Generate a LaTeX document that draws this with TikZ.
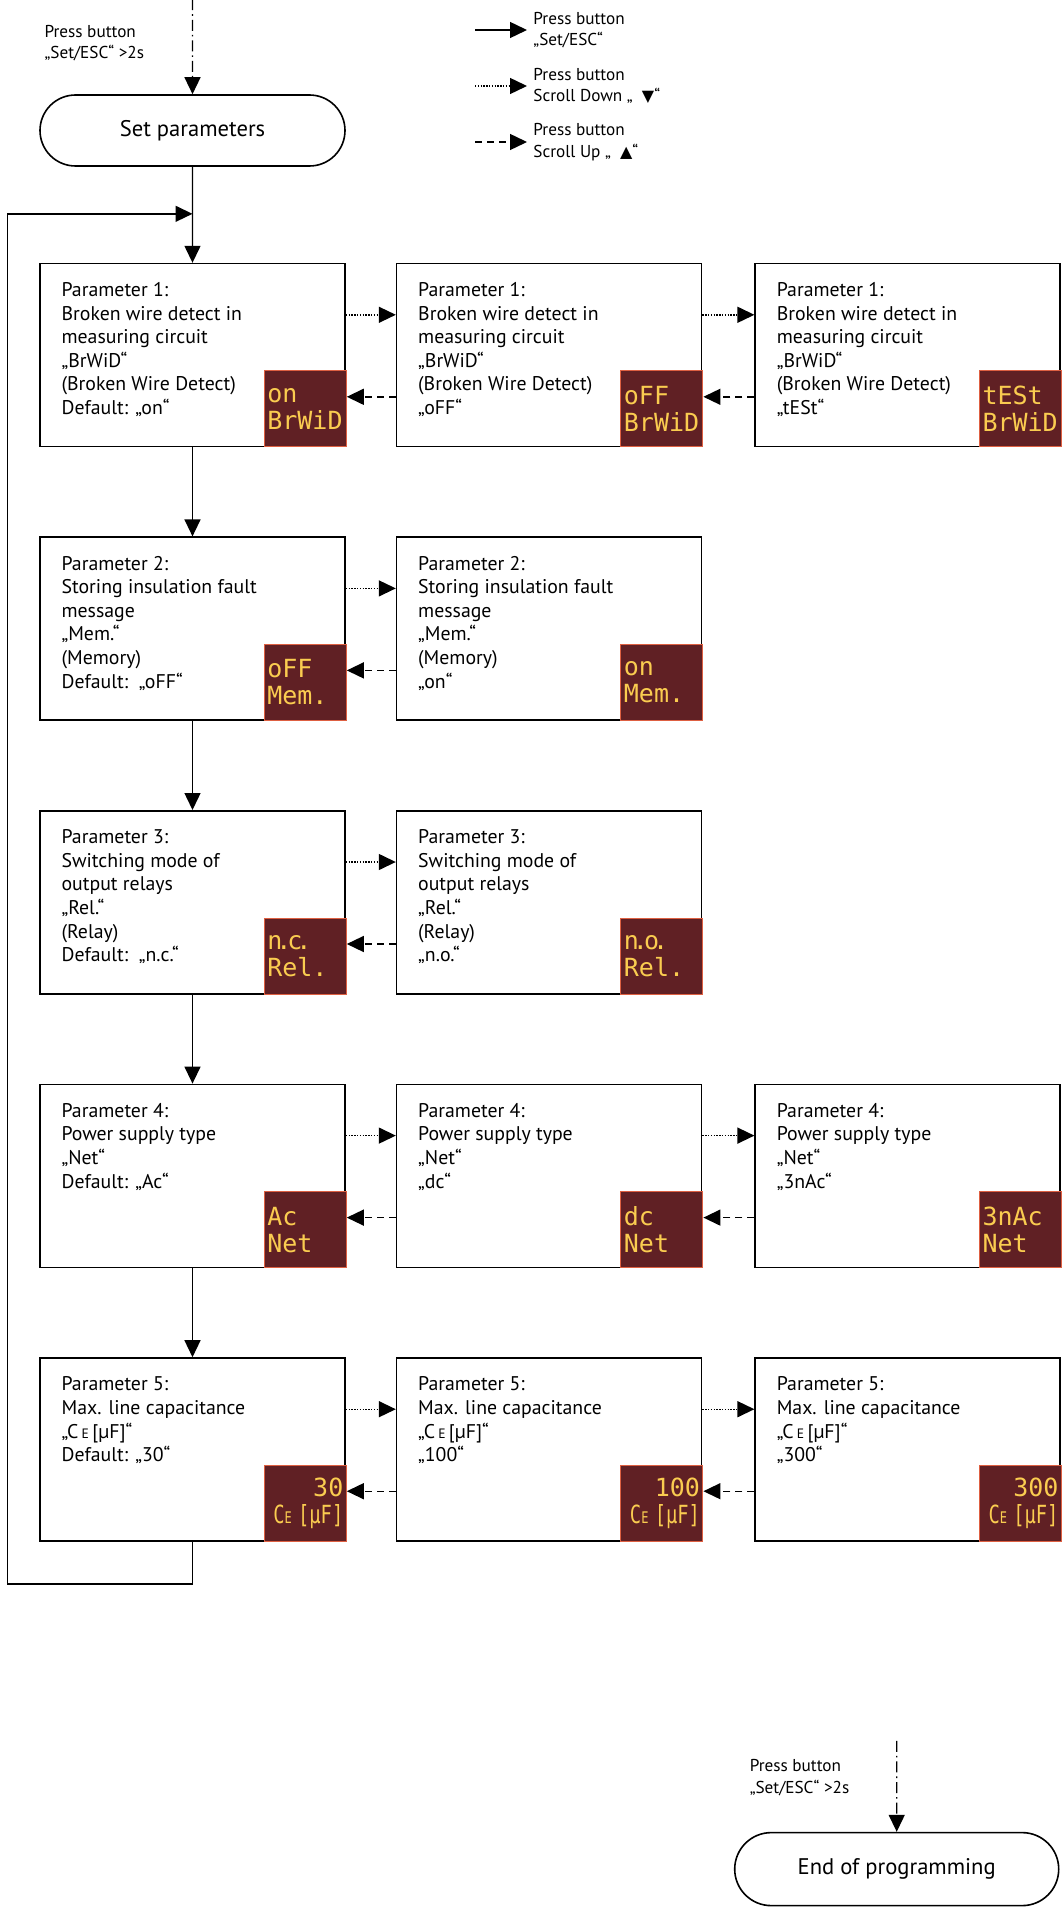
\documentclass[tikz,border=0pt]{standalone}
\usepackage{fontspec}
\usepackage{graphicx}
\setmainfont{PT Sans}
\newfontfamily\symfont{DejaVu Sans}
\newfontfamily\scrfont{DejaVu Sans Mono}
\usetikzlibrary{positioning,arrows.meta,shapes.misc,calc}
\definecolor{scrbg}{RGB}{96,32,36}
\definecolor{scredge}{RGB}{222,96,66}
\definecolor{scrtxt}{RGB}{250,204,80}
\newcommand{\capE}{C\,{\fontsize{6.8}{7}\selectfont E}\,[µF]}
\newcommand{\scrcapE}{\scalebox{0.75}[1]{C{\fontsize{8}{8}\selectfont E} [µF]}}
\tikzset{
  pm box/.style={
    rectangle,
    draw=black,
    line width=0.8pt,
    minimum width=152.5pt,
    minimum height=91.5pt,
    inner sep=0pt,
  },
  pm text/.style={align=left, inner sep=0pt, font=\fontsize{9.9}{11.8}\selectfont},
  pm screen/.style={
    rectangle,
    fill=scrbg,
    draw=scredge,
    line width=0.5pt,
    minimum width=41pt,
    minimum height=38pt,
    text width=38pt,
    inner sep=1.5pt,
    align=left,
    text=scrtxt,
    font=\scrfont\fontsize{12.5}{13.5}\selectfont,
    anchor=south east,
  },
  pm stadium/.style={
    rounded rectangle,
    draw=black,
    line width=0.8pt,
    inner sep=0pt,
    font=\fontsize{11.3}{13}\selectfont,
  },
  pm note/.style={align=left, inner sep=0pt, font=\fontsize{8.6}{10.8}\selectfont},
  pm line/.style={line width=0.7pt},
  pm set/.style={pm line, -{Triangle[length=8.5pt,width=8pt]}},
  pm down/.style={pm set, dash pattern=on 0.7pt off 0.7pt},
  pm up/.style={pm set, dash pattern=on 3.5pt off 2.5pt},
  pm entry/.style={pm set, dash pattern=on 5.5pt off 2pt on 0.8pt off 2pt},
}

\begin{document}
\begin{tikzpicture}
  \useasboundingbox (0,0) rectangle (530.5pt,-955pt);

  % start
  \node[pm stadium, minimum width=152.5pt, minimum height=35.5pt] (setpar) at (96.25pt,-65.25pt) {Set parameters};
  \coordinate[above=47.5pt of setpar.north] (startin);
  \coordinate (startmid) at ($(startin)!0.5!(setpar.north)$);
  \node[pm note, left=24pt of startmid, yshift=1.75pt] (startnote) {Press button\\„Set/ESC“ >2s};

  % legend
  \node[pm note, anchor=west, inner xsep=3pt] (leg1) at (263.5pt,-15pt) {Press button\\„Set/ESC“};
  \node[pm note, anchor=west, inner xsep=3pt] (leg2) at (263.5pt,-43pt) {Press button\\Scroll Down „ \ {\symfont\fontsize{8}{8}\selectfont ▼}“};
  \node[pm note, anchor=west, inner xsep=3pt] (leg3) at (263.5pt,-71pt) {Press button\\Scroll Up „ \ {\symfont\fontsize{8}{8}\selectfont ▲}“};
  \coordinate[left=26pt of leg1.west] (leg1tail);
  \coordinate[left=26pt of leg2.west] (leg2tail);
  \coordinate[left=26pt of leg3.west] (leg3tail);

  % parameter 1
  \node[pm box, below=48pt of setpar] (p1a) {};
  \node[pm box, right=25pt of p1a] (p1b) {};
  \node[pm box, right=26pt of p1b] (p1c) {};
  \node[pm text, below right=9.6pt and 11pt of p1a.north west] (t1a) {Parameter 1:\\Broken wire detect in\\measuring circuit\\„BrWiD“\\(Broken Wire Detect)\\Default: „on“};
  \node[pm text, below right=9.6pt and 11pt of p1b.north west] (t1b) {Parameter 1:\\Broken wire detect in\\measuring circuit\\„BrWiD“\\(Broken Wire Detect)\\„oFF“};
  \node[pm text, below right=9.6pt and 11pt of p1c.north west] (t1c) {Parameter 1:\\Broken wire detect in\\measuring circuit\\„BrWiD“\\(Broken Wire Detect)\\„tESt“};
  \node[pm screen] (s1a) at ([xshift=0.5pt]p1a.south east) {on\\BrWiD};
  \node[pm screen] (s1b) at ([xshift=0.5pt]p1b.south east) {oFF\\BrWiD};
  \node[pm screen] (s1c) at ([xshift=0.5pt]p1c.south east) {tESt\\BrWiD};

  % parameter 2
  \node[pm box, below=44.5pt of p1a] (p2a) {};
  \node[pm box, right=25pt of p2a] (p2b) {};
  \node[pm text, below right=9.6pt and 11pt of p2a.north west] (t2a) {Parameter 2:\\Storing insulation fault\\message\\„Mem.“\\(Memory)\\Default:\ \ „oFF“};
  \node[pm text, below right=9.6pt and 11pt of p2b.north west] (t2b) {Parameter 2:\\Storing insulation fault\\message\\„Mem.“\\(Memory)\\„on“};
  \node[pm screen] (s2a) at ([xshift=0.5pt]p2a.south east) {oFF\\Mem.};
  \node[pm screen] (s2b) at ([xshift=0.5pt]p2b.south east) {on\\Mem.};

  % parameter 3
  \node[pm box, below=44.5pt of p2a] (p3a) {};
  \node[pm box, right=25pt of p3a] (p3b) {};
  \node[pm text, below right=9.6pt and 11pt of p3a.north west] (t3a) {Parameter 3:\\Switching mode of\\output relays\\„Rel.“\\(Relay)\\Default:\ \ „n.c.“};
  \node[pm text, below right=9.6pt and 11pt of p3b.north west] (t3b) {Parameter 3:\\Switching mode of\\output relays\\„Rel.“\\(Relay)\\„n.o.“};
  \node[pm screen] (s3a) at ([xshift=0.5pt]p3a.south east) {n\kern-3pt.\kern-2pt c\kern-3pt.\\Rel.};
  \node[pm screen] (s3b) at ([xshift=0.5pt]p3b.south east) {n\kern-3pt.\kern-2pt o\kern-3pt.\\Rel.};

  % parameter 4
  \node[pm box, below=44.5pt of p3a] (p4a) {};
  \node[pm box, right=25pt of p4a] (p4b) {};
  \node[pm box, right=26pt of p4b] (p4c) {};
  \node[pm text, below right=9.6pt and 11pt of p4a.north west] (t4a) {Parameter 4:\\Power supply type\\„Net“\\Default: „Ac“};
  \node[pm text, below right=9.6pt and 11pt of p4b.north west] (t4b) {Parameter 4:\\Power supply type\\„Net“\\„dc“};
  \node[pm text, below right=9.6pt and 11pt of p4c.north west] (t4c) {Parameter 4:\\Power supply type\\„Net“\\„3nAc“};
  \node[pm screen] (s4a) at ([xshift=0.5pt]p4a.south east) {Ac\\Net};
  \node[pm screen] (s4b) at ([xshift=0.5pt]p4b.south east) {dc\\Net};
  \node[pm screen] (s4c) at ([xshift=0.5pt]p4c.south east) {3nAc\\Net};

  % parameter 5
  \node[pm box, below=44.5pt of p4a] (p5a) {};
  \node[pm box, right=25pt of p5a] (p5b) {};
  \node[pm box, right=26pt of p5b] (p5c) {};
  \node[pm text, below right=9.6pt and 11pt of p5a.north west] (t5a) {Parameter 5:\\Max. line capacitance\\„\capE“\\Default: „30“};
  \node[pm text, below right=9.6pt and 11pt of p5b.north west] (t5b) {Parameter 5:\\Max. line capacitance\\„\capE“\\„100“};
  \node[pm text, below right=9.6pt and 11pt of p5c.north west] (t5c) {Parameter 5:\\Max. line capacitance\\„\capE“\\„300“};
  \node[pm screen, align=right] (s5a) at ([xshift=0.5pt]p5a.south east) {30\\\scrcapE};
  \node[pm screen, align=right] (s5b) at ([xshift=0.5pt]p5b.south east) {100\\\scrcapE};
  \node[pm screen, align=right] (s5c) at ([xshift=0.5pt]p5c.south east) {300\\\scrcapE};

  % end
  \node[pm stadium, minimum width=162pt, minimum height=36.5pt, below=145pt of p5c.south, xshift=-5.5pt] (endprog) {End of programming};
  \coordinate[above=45.5pt of endprog.north] (endin);
  \coordinate (endmid) at ($(endin)!0.5!(endprog.north)$);
  \node[pm note, left=23.5pt of endmid, yshift=4.5pt] (endnote) {Press button\\„Set/ESC“ >2s};

  % loop points
  \coordinate (loopin) at ($(setpar.south)!0.49!(p1a.north)$);
  \coordinate (loopcorner) at ($(p1a.west |- loopin)+(-15.75pt,0)$);

  % connectors
  \draw[pm entry] (startin) -- (setpar);
  \draw[pm entry] (endin) -- (endprog);
  \draw[pm set] (leg1tail) -- (leg1);
  \draw[pm down] (leg2tail) -- (leg2);
  \draw[pm up] (leg3tail) -- (leg3);

  \draw[pm set] (setpar) -- (p1a);
  \draw[pm set] (p1a) -- (p2a);
  \draw[pm set] (p2a) -- (p3a);
  \draw[pm set] (p3a) -- (p4a);
  \draw[pm set] (p4a) -- (p5a);
  \draw[pm set] (p5a.south) -- ++(0,-21pt) -| (loopcorner) -- (loopin);

  \draw[pm down] ([yshift=-26pt]p1a.north east) -- ([yshift=-26pt]p1b.north west);
  \draw[pm down] ([yshift=-26pt]p1b.north east) -- ([yshift=-26pt]p1c.north west);
  \draw[pm up] ([yshift=-67pt]p1b.north west) -- ([yshift=-67pt]s1a.north east |- p1a.north east);
  \draw[pm up] ([yshift=-67pt]p1c.north west) -- ([yshift=-67pt]s1b.north east |- p1b.north east);

  \draw[pm down] ([yshift=-26pt]p2a.north east) -- ([yshift=-26pt]p2b.north west);
  \draw[pm up] ([yshift=-67pt]p2b.north west) -- ([yshift=-67pt]s2a.north east |- p2a.north east);

  \draw[pm down] ([yshift=-26pt]p3a.north east) -- ([yshift=-26pt]p3b.north west);
  \draw[pm up] ([yshift=-67pt]p3b.north west) -- ([yshift=-67pt]s3a.north east |- p3a.north east);

  \draw[pm down] ([yshift=-26pt]p4a.north east) -- ([yshift=-26pt]p4b.north west);
  \draw[pm down] ([yshift=-26pt]p4b.north east) -- ([yshift=-26pt]p4c.north west);
  \draw[pm up] ([yshift=-67pt]p4b.north west) -- ([yshift=-67pt]s4a.north east |- p4a.north east);
  \draw[pm up] ([yshift=-67pt]p4c.north west) -- ([yshift=-67pt]s4b.north east |- p4b.north east);

  \draw[pm down] ([yshift=-26pt]p5a.north east) -- ([yshift=-26pt]p5b.north west);
  \draw[pm down] ([yshift=-26pt]p5b.north east) -- ([yshift=-26pt]p5c.north west);
  \draw[pm up] ([yshift=-67pt]p5b.north west) -- ([yshift=-67pt]s5a.north east |- p5a.north east);
  \draw[pm up] ([yshift=-67pt]p5c.north west) -- ([yshift=-67pt]s5b.north east |- p5b.north east);
\end{tikzpicture}
\end{document}
